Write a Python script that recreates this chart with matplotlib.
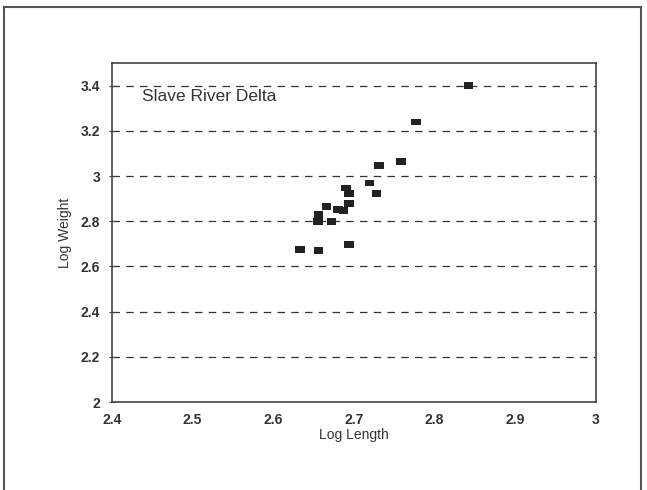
import matplotlib
matplotlib.use("Agg")
import matplotlib.pyplot as plt
from matplotlib.lines import Line2D

plt.rcParams['font.family'] = ['Liberation Sans', 'DejaVu Sans']

# Slave River Delta length-weight (log10)
log_length = [2.842, 2.777, 2.758, 2.731, 2.719, 2.690, 2.694, 2.728, 2.694,
              2.687, 2.680, 2.666, 2.656, 2.655, 2.672, 2.694, 2.633, 2.656]
log_weight = [3.401, 3.239, 3.063, 3.047, 2.969, 2.947, 2.922, 2.922, 2.877,
              2.848, 2.850, 2.863, 2.829, 2.799, 2.799, 2.696, 2.673, 2.669]

x_ticks = [2.4, 2.5, 2.6, 2.7, 2.8, 2.9, 3.0]
x_tick_labels = ['2.4', '2.5', '2.6', '2.7', '2.8', '2.9', '3']
y_ticks = [2.0, 2.2, 2.4, 2.6, 2.8, 3.0, 3.2, 3.4]
y_tick_labels = ['2', '2.2', '2.4', '2.6', '2.8', '3', '3.2', '3.4']

fig = plt.figure(figsize=(6.47, 4.9), dpi=100)
W, H = 647, 490
ax = fig.add_axes([112 / W, 1 - 402 / H, (596 - 112) / W, (402 - 63) / H])

# wide rectangle marker like the original
rect = [(-1, -0.72), (1, -0.72), (1, 0.72), (-1, 0.72), (-1, -0.72)]
ax.scatter(log_length, log_weight, marker=rect, s=48, color='#222222',
           edgecolors='none', zorder=3)

ax.set_xlim(2.4, 3.0)
ax.set_ylim(2.0, 3.5)
ax.set_xticks(x_ticks)
ax.set_xticklabels(x_tick_labels)
ax.set_yticks(y_ticks)
ax.set_yticklabels(y_tick_labels)

# dashed gridlines (skip the bottom one, it is the axis)
for yv in y_ticks[1:]:
    ax.axhline(yv, color='#333333', linestyle=(0, (6, 5)), linewidth=0.9, zorder=1)

ax.tick_params(axis='x', length=0, labelsize=10, pad=8)
ax.tick_params(axis='y', direction='inout', length=5, width=0.8,
               labelsize=10, pad=6, color='#444444')
for lab in ax.get_xticklabels() + ax.get_yticklabels():
    lab.set_fontweight('bold')
    lab.set_color('#333333')

for sp in ax.spines.values():
    sp.set_color('#444444')
    sp.set_linewidth(1.2)

ax.set_xlabel('Log Length', fontsize=10, color='#333333', labelpad=1)
ax.set_ylabel('Log Weight', fontsize=10, color='#333333', labelpad=6)

ax.text(2.437, 3.352, 'Slave River Delta', fontsize=12.5, color='#333333',
        va='center', ha='left', zorder=4)

# outer chart border (left, top, right)
bx0, bx1, by0 = 4 / W, 641 / W, 1 - 7 / H
for xs, ys in [([bx0, bx0], [0, by0]), ([bx0, bx1], [by0, by0]), ([bx1, bx1], [by0, 0])]:
    fig.add_artist(Line2D(xs, ys, color='#555555', linewidth=1.5,
                          transform=fig.transFigure))

fig.savefig('out.png', dpi=100)
